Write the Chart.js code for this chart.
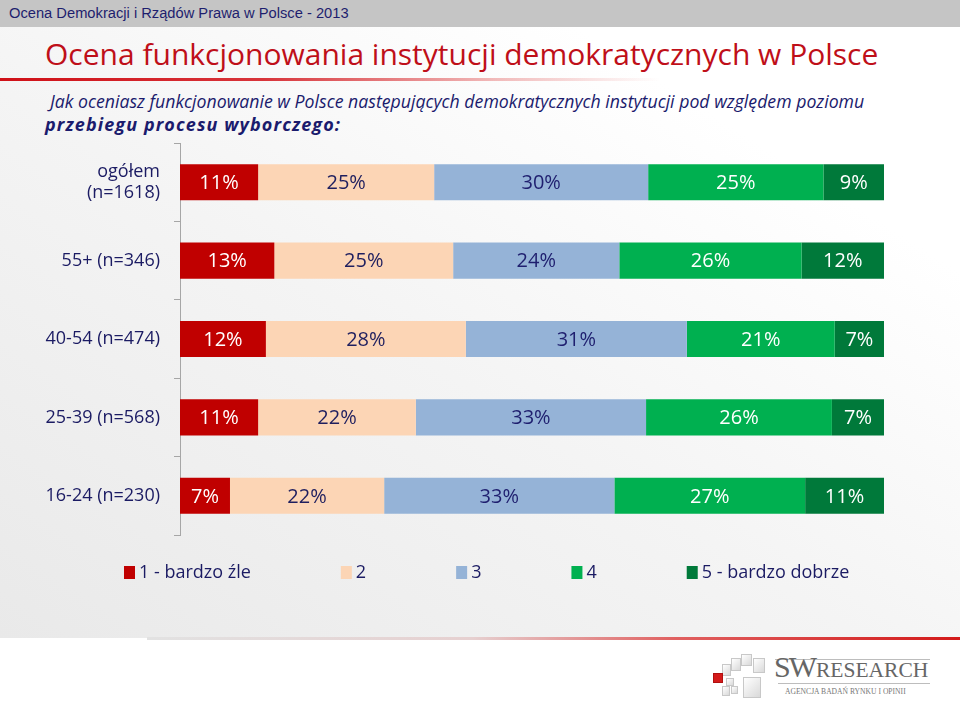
<!DOCTYPE html>
<html lang="pl">
<head>
<meta charset="utf-8">
<script src="https://cdn.jsdelivr.net/npm/chart.js@4/dist/chart.umd.min.js"></script>
<style>
  html, body { margin: 0; padding: 0; }
  body { width: 960px; height: 720px; position: relative; overflow: hidden; background: #ffffff; font-family: "Open Sans", sans-serif; }
  #bg { position: absolute; left: 0; top: 27px; width: 960px; height: 611px;
        background: linear-gradient(to top right, #e9e9e9 0%, #f4f4f4 45%, #ffffff 80%); }
  #banner { position: absolute; left: 0; top: 0; width: 960px; height: 27px; background: #c5c5c5;
            font-family: "Liberation Sans", Arial, sans-serif; font-size: 14.7px; color: #1e1e6e; line-height: 27px; padding-left: 9px; box-sizing: border-box; }
  #title { position: absolute; left: 45px; top: 34px; font-size: 30px; color: #bf0f19; white-space: nowrap; line-height: 40px; }
  #redline { position: absolute; left: 0; top: 78px; width: 660px; height: 3px;
             background: linear-gradient(to right, #cf1017 0%, #d8343a 40%, rgba(230,120,120,0.5) 75%, rgba(255,255,255,0) 100%); }
  #sub1 { position: absolute; left: 50px; top: 89px; font-size: 17.7px; font-style: italic; color: #1b1b6d; white-space: nowrap; line-height: 24px; }
  #sub2 { position: absolute; left: 45px; top: 112px; font-size: 18px; font-style: italic; font-weight: 700; color: #1b1b6d; white-space: nowrap; line-height: 24px; letter-spacing: 1.1px; }
  #bottomline { position: absolute; left: 147px; top: 637px; width: 813px; height: 3px;
                background: linear-gradient(to right, #e2e2e2 0%, #e6d0d0 40%, #e06060 65%, #d31a1a 100%); }
  #chartwrap { position: absolute; left: 0; top: 130px; width: 960px; height: 470px; }
  #logo { position: absolute; left: 712px; top: 650px; width: 230px; height: 55px; }
  .sq { position: absolute; border: 1px solid #c8c8c8; background: linear-gradient(135deg, #ffffff, #d9d9d9); box-sizing: border-box; }
  #lnTop { position: absolute; left: 63px; top: 9px; width: 155px; height: 1px; background: #bdbdbd; }
  #lnBot { position: absolute; left: 66px; top: 33px; width: 152px; height: 1px; background: #bdbdbd; }
  #sw { position: absolute; left: 62px; top: 2px; font-family: "Liberation Serif", "DejaVu Serif", serif; color: #666; font-size: 30px; letter-spacing: -2px; line-height: 30px; white-space: nowrap; }
  #rs { position: absolute; left: 104px; top: 8px; font-family: "Liberation Serif", "DejaVu Serif", serif; color: #666; font-size: 21.5px; line-height: 24px; white-space: nowrap; }
  #agency { position: absolute; left: 73px; top: 37px; font-family: "Liberation Serif", serif; font-size: 7.6px; color: #777; white-space: nowrap; line-height: 10px; }
</style>
</head>
<body>
<div id="bg"></div>
<div id="banner">Ocena Demokracji i Rządów Prawa w Polsce - 2013</div>
<div id="title">Ocena funkcjonowania instytucji demokratycznych w Polsce</div>
<div id="redline"></div>
<div id="sub1">Jak oceniasz funkcjonowanie w Polsce następujących demokratycznych instytucji pod względem poziomu</div>
<div id="sub2">przebiegu procesu wyborczego:</div>
<div id="bottomline"></div>
<div id="chartwrap"><canvas id="c" width="960" height="470"></canvas></div>
<div id="logo">
  <div class="sq" style="left:10px;top:14px;width:9px;height:12px;"></div>
  <div class="sq" style="left:19px;top:8px;width:10px;height:13px;"></div>
  <div class="sq" style="left:29px;top:4px;width:11px;height:12px;"></div>
  <div class="sq" style="left:41px;top:8px;width:12px;height:15px;"></div>
  <div class="sq" style="left:1px;top:23px;width:10px;height:10px;background:#d41a1a;border-color:#b01010;"></div>
  <div class="sq" style="left:14px;top:28px;width:8px;height:8px;"></div>
  <div class="sq" style="left:10px;top:36px;width:8px;height:10px;"></div>
  <div class="sq" style="left:19px;top:36px;width:7px;height:8px;"></div>
  <div class="sq" style="left:31px;top:27px;width:18px;height:21px;"></div>
  <div id="lnTop"></div>
  <div id="lnBot"></div>
  <div id="sw">SW</div>
  <div id="rs">RESEARCH</div>
  <div id="agency">AGENCJA BADAŃ RYNKU I OPINII</div>
</div>
<script>
// ---- data ----
const categories = [["ogółem", "(n=1618)"], "55+ (n=346)", "40-54 (n=474)", "25-39 (n=568)", "16-24 (n=230)"];
const seriesNames = ["1 - bardzo źle", "2", "3", "4", "5 - bardzo dobrze"];
const s1 = [11.1, 13.4, 12.2, 11.1, 7.1];
const s2 = [25.0, 25.4, 28.4, 22.4, 21.9];
const s3 = [30.4, 23.6, 31.4, 32.7, 32.7];
const s4 = [24.9, 25.9, 21.0, 26.4, 27.1];
const s5 = [8.6, 11.7, 7.0, 7.4, 11.2];
const xTicks = [0, 100];

const colors = ["#c00000", "#fcd5b5", "#95b3d7", "#00b050", "#00793a"];
const labelColors = ["#ffffff", "#1f1f5f", "#1f1f6f", "#ffffff", "#ffffff"];
const NAVY = "#1b1b63";
const FONT = "'Open Sans', sans-serif";

const seriesValues = [s1, s2, s3, s4, s5];
const datasets = seriesValues.map((vals, i) => ({
  label: seriesNames[i],
  data: vals,
  backgroundColor: colors[i],
  borderWidth: 0,
  barPercentage: 0.92,
  categoryPercentage: 0.5
}));

const valueLabels = {
  id: 'valueLabels',
  afterDatasetsDraw(chart) {
    const ctx = chart.ctx;
    ctx.save();
    ctx.font = "20px " + FONT;
    ctx.textAlign = 'center';
    ctx.textBaseline = 'middle';
    chart.data.datasets.forEach((ds, di) => {
      const meta = chart.getDatasetMeta(di);
      meta.data.forEach((el, i) => {
        const p = el.getProps(['x', 'y', 'base'], true);
        ctx.fillStyle = labelColors[di];
        ctx.fillText(Math.round(ds.data[i]) + '%', (p.x + p.base) / 2, p.y + 1);
      });
    });
    ctx.restore();
  }
};

const customLegend = {
  id: 'customLegend',
  afterDraw(chart) {
    const ctx = chart.ctx;
    ctx.save();
    ctx.font = "18px " + FONT;
    ctx.textBaseline = 'middle';
    ctx.textAlign = 'left';
    let x = 124;
    const y = chart.chartArea.bottom + 38;
    chart.data.datasets.forEach((ds) => {
      ctx.fillStyle = ds.backgroundColor;
      ctx.fillRect(x, y - 7, 11, 13);
      ctx.fillStyle = NAVY;
      ctx.fillText(ds.label, x + 15, y);
      x += 15 + ctx.measureText(ds.label).width + 90;
    });
    ctx.restore();
  }
};

new Chart(document.getElementById('c'), {
  type: 'bar',
  data: { labels: categories, datasets },
  options: {
    indexAxis: 'y',
    responsive: false,
    animation: false,
    layout: { padding: { top: 13, bottom: 65, left: 0, right: 76 } },
    plugins: { legend: { display: false }, tooltip: { enabled: false } },
    scales: {
      x: { stacked: true, min: xTicks[0], max: xTicks[1], display: false },
      y: {
        stacked: true,
        afterFit(scale) { scale.width = 180; scale.paddingTop = 0; scale.paddingBottom = 0; },
        border: { display: true, color: '#a6a6a6', width: 1 },
        grid: { display: true, drawOnChartArea: false, offset: true, tickLength: 6, color: '#a6a6a6' },
        ticks: { color: NAVY, font: { family: FONT, size: 18 }, padding: 14 }
      }
    }
  },
  plugins: [valueLabels, customLegend]
});
</script>
</body>
</html>
